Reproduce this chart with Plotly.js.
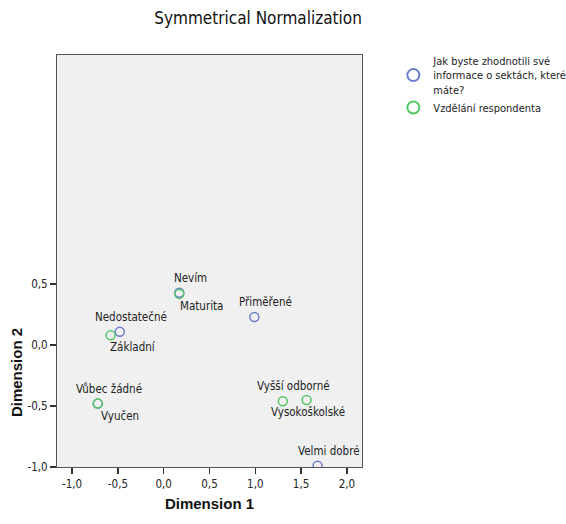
<!DOCTYPE html>
<html>
<head>
<meta charset="utf-8">
<script src="https://cdn.plot.ly/plotly-3.0.1.min.js"></script>
<style>body{margin:0;background:#fff}#chart{width:566px;height:524px}</style>
</head>
<body>
<div id="chart"></div>
<script>
// Row points: "Jak byste zhodnotili své informace o sektách, které máte?"
var infoLabels = ["Nevím", "Nedostatečné", "Vůbec žádné", "Přiměřené", "Velmi dobré"];
var infoX = [0.17, -0.48, -0.72, 0.99, 1.68];
var infoY = [0.43, 0.11, -0.48, 0.23, -0.99];

// Column points: "Vzdělání respondenta"
var eduLabels = ["Maturita", "Základní", "Vyučen", "Vyšší odborné", "Vysokoškolské"];
var eduX = [0.17, -0.58, -0.72, 1.30, 1.56];
var eduY = [0.42, 0.08, -0.48, -0.46, -0.45];

var xTickVals = [-1.0, -0.5, 0.0, 0.5, 1.0, 1.5, 2.0];
var xTickText = ["-1,0", "-0,5", "0,0", "0,5", "1,0", "1,5", "2,0"];
var yTickVals = [-1.0, -0.5, 0.0, 0.5];
var yTickText = ["-1,0", "-0,5", "0,0", "0,5"];

// ---- styling ----
var blue = "#6b7fcc";
var green = "#55c765";
var font = "'DejaVu Sans Condensed', 'Liberation Sans', Arial, sans-serif";
var boldFont = "'Liberation Sans', Arial, sans-serif";

// label placement (style): above or below the point, horizontal shift in px
var labelPlacement = {
  "Nevím": ["above", 11], "Nedostatečné": ["above", 11], "Vůbec žádné": ["above", 11],
  "Přiměřené": ["above", 11], "Velmi dobré": ["above", 11],
  "Maturita": ["below", 22], "Základní": ["below", 22], "Vyučen": ["below", 22],
  "Vyšší odborné": ["above", 11], "Vysokoškolské": ["below", 1]
};

var traces = [
  {
    type: "scatter", mode: "markers", x: infoX, y: infoY,
    name: "Jak byste zhodnotili své<br>informace o sektách, které<br>máte?",
    marker: {symbol: "circle-open", size: 9, color: blue, line: {width: 1.5, color: blue}},
    hoverinfo: "text", text: infoLabels
  },
  {
    type: "scatter", mode: "markers", x: eduX, y: eduY,
    name: "Vzdělání respondenta",
    marker: {symbol: "circle-open", size: 9, color: green, line: {width: 1.5, color: green}},
    hoverinfo: "text", text: eduLabels
  }
];

var annotations = [];
function addLabels(labels, xs, ys) {
  for (var i = 0; i < labels.length; i++) {
    var p = labelPlacement[labels[i]];
    var above = p[0] === "above";
    annotations.push({
      x: xs[i], y: ys[i], xref: "x", yref: "y", text: labels[i], showarrow: false,
      xanchor: "center", yanchor: above ? "bottom" : "top",
      xshift: p[1], yshift: above ? 6 : -3,
      font: {family: font, size: 11.5, color: "#222"}
    });
  }
}
addLabels(infoLabels, infoX, infoY);
addLabels(eduLabels, eduX, eduY);

annotations.push({
  text: "<b>Dimension 2</b>", xref: "paper", yref: "paper",
  x: -0.135, y: 0.23, textangle: -90, showarrow: false,
  xanchor: "center", yanchor: "middle",
  font: {family: boldFont, size: 15, color: "#111"}
});

var layout = {
  width: 566, height: 524,
  margin: {l: 57, r: 204, t: 55, b: 57},
  paper_bgcolor: "#ffffff",
  plot_bgcolor: "#f0f0f0",
  title: {
    text: "Symmetrical Normalization",
    x: 0.456, xanchor: "center", y: 0.965, yanchor: "middle",
    font: {family: font, size: 17, color: "#111"}
  },
  showlegend: true,
  legend: {
    xref: "container", yref: "container",
    x: 0.695, y: 0.91, xanchor: "left", yanchor: "top",
    font: {family: font, size: 11, color: "#222"},
    bgcolor: "rgba(0,0,0,0)", itemsizing: "constant", tracegroupgap: 3,
    itemwidth: 30
  },
  xaxis: {
    range: [-1.165, 2.165], tickvals: xTickVals, ticktext: xTickText,
    ticks: "outside", ticklen: 6, tickcolor: "#333", tickwidth: 1.5,
    showgrid: false, zeroline: false,
    showline: true, linecolor: "#555", linewidth: 1, mirror: true,
    tickfont: {family: font, size: 11.5, color: "#222"},
    title: {text: "<b>Dimension 1</b>", standoff: 8,
      font: {family: boldFont, size: 15, color: "#111"}}
  },
  yaxis: {
    range: [-1.0, 2.38], tickvals: yTickVals, ticktext: yTickText,
    ticks: "outside", ticklen: 6, tickcolor: "#333", tickwidth: 1.5,
    showgrid: false, zeroline: false,
    showline: true, linecolor: "#555", linewidth: 1, mirror: true,
    tickfont: {family: font, size: 11.5, color: "#222"}
  },
  annotations: annotations
};

Plotly.newPlot("chart", traces, layout, {displayModeBar: false, staticPlot: true});
</script>
</body>
</html>
